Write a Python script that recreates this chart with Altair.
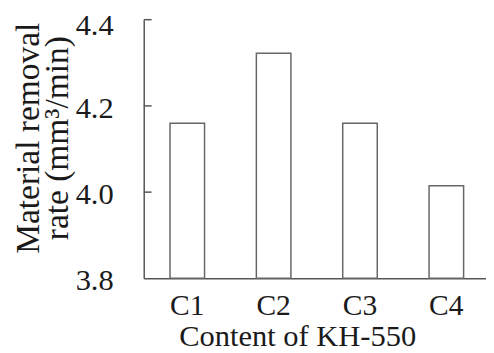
import altair as alt
import pandas as pd

categories = ["C1", "C2", "C3", "C4"]
rates = [4.16, 4.322, 4.16, 4.015]
y_tick_values = [3.8, 4.0, 4.2, 4.4]
inner_tick_values = [4.0, 4.2, 4.4]
y_title = ["Material removal", "rate (mm³/min)"]
x_title = "Content of KH-550"

df = pd.DataFrame({"content": categories, "value": rates})
tick_df = pd.DataFrame({"value": inner_tick_values})

FONT = "Liberation Serif"
AXIS_GRAY = "#555555"
TEXT = "#1a1a1a"

y_scale = alt.Scale(domain=[3.8, 4.4], zero=False, nice=False)
y_axis = alt.Axis(
    values=y_tick_values, format=".1f", title=y_title, grid=False, ticks=False,
    domainColor=AXIS_GRAY, domainWidth=1.5,
    labelFont=FONT, labelFontSize=31, labelColor=TEXT, labelPadding=31,
    labelOffset={"condition": {"test": "datum.value > 4.3", "value": 6}, "value": 2.5},
    titleFont=FONT, titleFontSize=34, titleFontWeight="normal", titleColor=TEXT,
    titleAngle=270, titleAlign="center", titleBaseline="alphabetic",
    titleX=-107, titleY=120, titleLineHeight=29,
)
x_axis = alt.Axis(
    title=x_title, labelAngle=0, ticks=False, grid=False,
    domainColor=AXIS_GRAY, domainWidth=1.5,
    labelFont=FONT, labelFontSize=30, labelColor=TEXT, labelPadding=13,
    titleFont=FONT, titleFontSize=31, titleFontWeight="normal", titleColor=TEXT,
    titleAlign="center", titleBaseline="alphabetic", titleX=156, titleY=68,
)

bars = alt.Chart(df).mark_bar(fill="white", stroke="#666666", strokeWidth=1.5).encode(
    x=alt.X("content:N", sort=categories,
            scale=alt.Scale(paddingInner=0.6, paddingOuter=0.2818, align=0.54),
            axis=x_axis),
    y=alt.Y("value:Q", scale=y_scale, axis=y_axis),
    y2=alt.datum(3.8),
)

ticks = alt.Chart(tick_df).mark_rule(color=AXIS_GRAY, strokeWidth=1.5).encode(
    y=alt.Y("value:Q", scale=y_scale, axis=y_axis),
    x=alt.value(0),
    x2=alt.value(8),
)

chart = alt.layer(bars, ticks).properties(
    width=348, height=263,
    padding={"left": 138, "top": 9, "right": 0, "bottom": 73},
    autosize=alt.AutoSizeParams(type="none"),
).configure_view(stroke=None).configure_axis(labelFont=FONT, titleFont=FONT)

chart.save("out.html", embed_options={"renderer": "svg", "actions": False})
